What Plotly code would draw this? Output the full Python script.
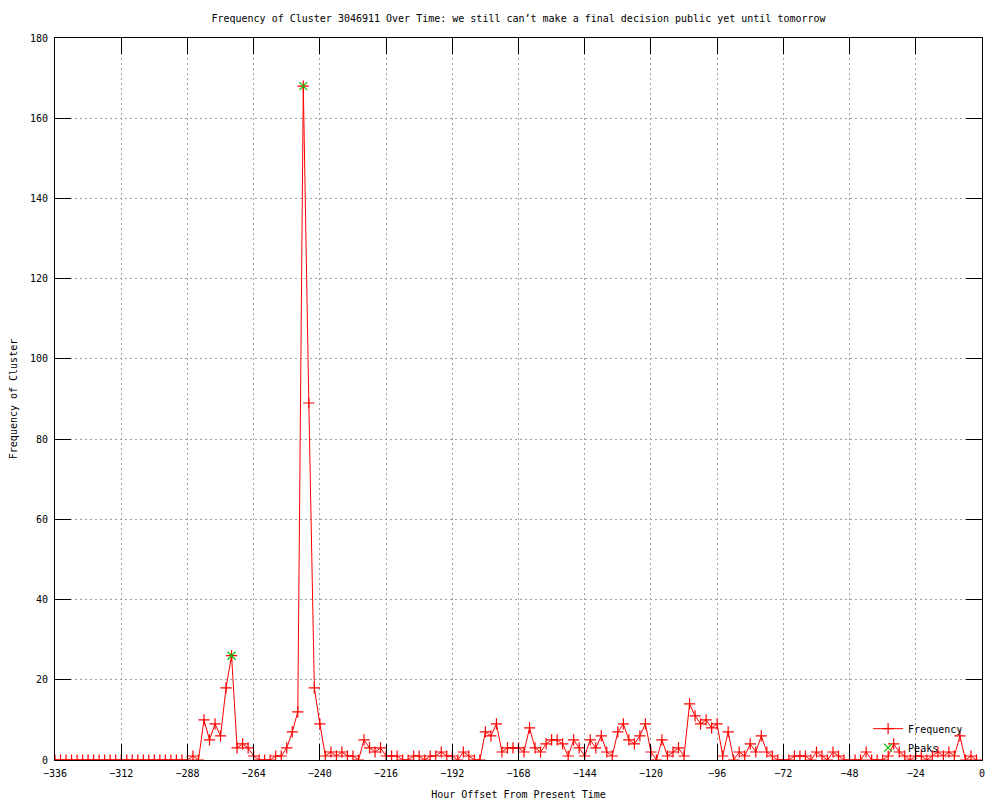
import plotly.graph_objects as go

# hour offsets (2 hour bins) and cluster counts
hours = list(range(-336, 0, 2))
frequency = [
    0, 0, 0, 0, 0, 0, 0, 0, 0, 0, 0, 0, 0, 0, 0, 0, 0, 0, 0, 0, 0, 0, 0, 0,
    0, 1, 0, 10, 5, 9, 6, 18, 26, 3,
    4, 3, 1, 0, 0, 0, 1, 1, 3, 7,
    12, 168, 89, 18, 9, 1, 2, 1, 2, 1,
    1, 0, 5, 3, 2, 3, 1, 1, 1, 0,
    0, 1, 1, 0, 1, 1, 2, 1, 1, 0,
    2, 1, 0, 0, 7, 6, 9, 2, 3, 3,
    3, 2, 8, 3, 2, 4, 5, 5, 4, 1,
    5, 3, 1, 5, 3, 6, 2, 1, 7, 9,
    5, 4, 6, 9, 2, 0, 5, 1, 2, 3,
    1, 14, 11, 9, 10, 8, 9, 1, 7, 0,
    2, 1, 4, 2, 6, 2, 1, 0, 0, 0,
    1, 1, 1, 0, 2, 1, 0, 2, 1, 0,
    0, 0, 0, 2, 0, 0, 0, 1, 4, 2,
    1, 0, 1, 1, 0, 1, 2, 1, 2, 1,
    6, 0, 1, 0,
]
peak_hours = [-272, -246]
peak_values = [26, 168]

x_ticks = list(range(-336, 1, 24))
y_ticks = list(range(0, 181, 20))

FONT = "DejaVu Sans Mono"

fig = go.Figure()
fig.add_trace(go.Scatter(
    x=hours, y=frequency, mode="lines+markers", name="Frequency",
    line=dict(color="#ff0000", width=1),
    marker=dict(symbol="cross-thin", size=8, line=dict(color="#ff0000", width=1.2)),
))
fig.add_trace(go.Scatter(
    x=peak_hours, y=peak_values, mode="markers", name="Peaks",
    marker=dict(symbol="x-thin", size=8, line=dict(color="#00c000", width=1.2)),
))

axis_common = dict(
    showline=True, linecolor="black", linewidth=1, mirror="ticks",
    ticks="inside", ticklen=16, tickwidth=1, tickcolor="black",
    showgrid=True, gridcolor="#a0a0a0", gridwidth=1, griddash="2px,3px",
    zeroline=False, automargin=False, ticklabelstandoff=4,
    tickfont=dict(family=FONT, size=10, color="black"),
)

fig.update_layout(
    width=1000, height=800,
    margin=dict(l=55, r=18, t=38, b=40),
    paper_bgcolor="white", plot_bgcolor="white",
    font=dict(family=FONT, size=10, color="black"),
    title=dict(
        text="Frequency of Cluster 3046911 Over Time: we still can’t make a final decision public yet until tomorrow",
        x=0.5, xref="paper", xanchor="center", y=0.977, yanchor="middle",
        font=dict(family=FONT, size=10),
    ),
    xaxis=dict(
        axis_common, range=[-336, 0], tickvals=x_ticks,
        title=dict(text="Hour Offset From Present Time", standoff=12,
                   font=dict(family=FONT, size=10)),
    ),
    yaxis=dict(
        axis_common, range=[0, 180], tickvals=y_ticks,
        title=dict(text="Frequency of Cluster", standoff=10,
                   font=dict(family=FONT, size=10)),
    ),
    legend=dict(
        x=0.985, y=-0.003, xanchor="right", yanchor="bottom",
        bgcolor="rgba(0,0,0,0)", font=dict(family=FONT, size=10),
        tracegroupgap=0, itemwidth=30,
    ),
)

# drop the default page margin so the figure sits at the window origin
fig.write_html("out.html", config={"displayModeBar": False},
               post_script="document.body.style.margin='0';")
